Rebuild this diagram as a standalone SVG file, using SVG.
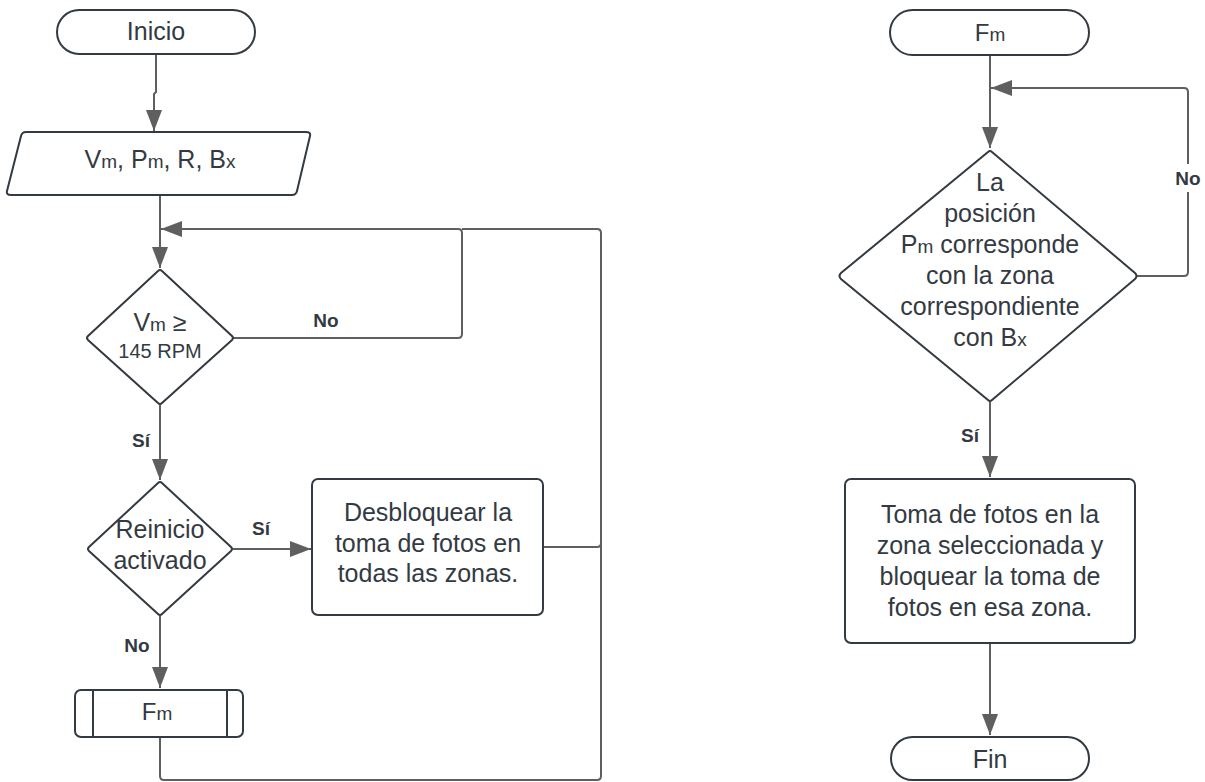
<svg xmlns="http://www.w3.org/2000/svg" width="1205" height="782" viewBox="0 0 1205 782">
  <style>
    .node { fill: #ffffff; stroke: #333a42; stroke-width: 2; }
    .edge { fill: none; stroke: #5f5f5f; stroke-width: 2; stroke-linejoin: round; }
    .t { font-family: "Liberation Sans", Arial, sans-serif; font-size: 25px; fill: #333a42; text-anchor: middle; }
    .lbl { font-family: "Liberation Sans", Arial, sans-serif; font-size: 19px; font-weight: bold; fill: #333a42; text-anchor: middle; }
    .sub { font-size: 19px; }
  </style>
  <defs>
    <marker id="arrow" markerUnits="userSpaceOnUse" markerWidth="21" markerHeight="16" viewBox="0 0 21 16" refX="21" refY="8" orient="auto">
      <path d="M0 0 L21 8 L0 16 Z" fill="#5f5f5f"/>
    </marker>
  </defs>

  <!-- connectors -->
  <g id="connectors">
    <!-- left flow -->
    <path class="edge" d="M156 54 V92 L154 94 V131" marker-end="url(#arrow)"/>
    <path class="edge" d="M160 195 V268" marker-end="url(#arrow)"/>
    <path class="edge" d="M233 338 H458 Q462 338 462 334 V233 Q462 229 458 229 H161" marker-end="url(#arrow)"/>
    <path class="edge" d="M462 229 H597 Q601 229 601 233 V776 Q601 780 597 780 H164 Q160 780 160 776 V737"/>
    <path class="edge" d="M544 547 H597 Q601 547 601 543"/>
    <path class="edge" d="M160 405 V480" marker-end="url(#arrow)"/>
    <path class="edge" d="M233 549 H311" marker-end="url(#arrow)"/>
    <path class="edge" d="M160 616 V688" marker-end="url(#arrow)"/>
    <!-- right flow -->
    <path class="edge" d="M990 55 V148" marker-end="url(#arrow)"/>
    <path class="edge" d="M1137 276 H1184 Q1188 276 1188 272 V92 Q1188 88 1184 88 H991" marker-end="url(#arrow)"/>
    <path class="edge" d="M990 402 V477" marker-end="url(#arrow)"/>
    <path class="edge" d="M990 643 V735" marker-end="url(#arrow)"/>
    <!-- branch labels -->
    <text class="lbl" x="326" y="327">No</text>
    <text class="lbl" x="141" y="447">Sí</text>
    <text class="lbl" x="261" y="535">Sí</text>
    <text class="lbl" x="137" y="652">No</text>
    <rect x="1170" y="164" width="36" height="28" fill="#ffffff"/>
    <text class="lbl" x="1188" y="185">No</text>
    <text class="lbl" x="970" y="442">Sí</text>
  </g>

  <!-- left flow nodes -->
  <g id="inicio">
    <rect class="node" x="57" y="10" width="198" height="44" rx="22"/>
    <text class="t" x="156" y="40">Inicio</text>
  </g>
  <g id="entradas">
    <path class="node" d="M26 132 H306 Q311 132 310 136 L297 191 Q296 195 292 195 H11 Q6 195 7 191 L21 136 Q22 132 26 132 Z"/>
    <text class="t" x="160" y="168">V<tspan class="sub">m</tspan>, P<tspan class="sub">m</tspan>, R, B<tspan class="sub">x</tspan></text>
  </g>
  <g id="velocidad">
    <path class="node" d="M158 271 Q160 269 162 271 L232 336 Q234 338 232 340 L162 403 Q160 405 158 403 L88 340 Q86 338 88 336 Z"/>
    <text class="t" x="160" y="331">V<tspan class="sub">m</tspan> ≥</text>
    <text class="t" x="160" y="358" style="font-size:20px">145 RPM</text>
  </g>
  <g id="reinicio">
    <path class="node" d="M158 483 Q160 481 162 483 L231 547 Q233 549 231 551 L162 614 Q160 616 158 614 L89 551 Q87 549 89 547 Z"/>
    <text class="t" x="160" y="538">Reinicio</text>
    <text class="t" x="160" y="569">activado</text>
  </g>
  <g id="desbloquear">
    <rect class="node" x="312" y="479" width="231" height="136" rx="6"/>
    <text class="t" x="428" y="521">Desbloquear la</text>
    <text class="t" x="428" y="552">toma de fotos en</text>
    <text class="t" x="428" y="582">todas las zonas.</text>
  </g>
  <g id="subproceso-fm">
    <rect class="node" x="75" y="690" width="168" height="47" rx="6"/>
    <line class="node" x1="93" y1="690" x2="93" y2="737"/>
    <line class="node" x1="227" y1="690" x2="227" y2="737"/>
    <text class="t" x="157" y="720" style="font-size:24px">F<tspan class="sub">m</tspan></text>
  </g>

  <!-- right flow nodes -->
  <g id="fm">
    <rect class="node" x="890" y="10" width="199" height="45" rx="22.5"/>
    <text class="t" x="990" y="41" style="font-size:24px">F<tspan class="sub">m</tspan></text>
  </g>
  <g id="posicion">
    <path class="node" d="M988 152 Q990 150 992 152 L1135 273 Q1138 276 1135 279 L992 400 Q990 402 988 400 L841 279 Q838 276 841 273 Z"/>
    <text class="t" x="990" y="191">La</text>
    <text class="t" x="990" y="222">posición</text>
    <text class="t" x="990" y="253">P<tspan class="sub">m</tspan> corresponde</text>
    <text class="t" x="990" y="284">con la zona</text>
    <text class="t" x="990" y="315">correspondiente</text>
    <text class="t" x="990" y="346">con B<tspan class="sub">x</tspan></text>
  </g>
  <g id="toma-fotos">
    <rect class="node" x="845" y="479" width="290" height="164" rx="6"/>
    <text class="t" x="990" y="523">Toma de fotos en la</text>
    <text class="t" x="990" y="554">zona seleccionada y</text>
    <text class="t" x="990" y="585">bloquear la toma de</text>
    <text class="t" x="990" y="616">fotos en esa zona.</text>
  </g>
  <g id="fin">
    <rect class="node" x="891" y="737" width="198" height="43" rx="21.5"/>
    <text class="t" x="990" y="768">Fin</text>
  </g>
</svg>
